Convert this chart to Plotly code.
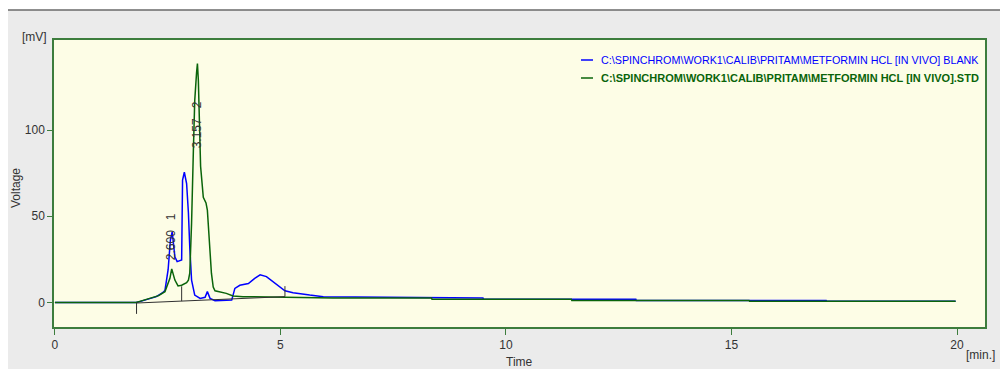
import plotly.graph_objects as go

# ---- chromatogram data (time in min, signal in mV) ----
blank_time = [0, 1.80, 1.88, 2.10, 2.25, 2.38, 2.44, 2.51, 2.56, 2.60, 2.63, 2.66, 2.71,
              2.81, 2.83, 2.87, 2.92, 2.96, 2.99, 3.03, 3.10, 3.22, 3.33, 3.38, 3.44,
              3.55, 3.92, 3.99, 4.10, 4.29, 4.43, 4.55, 4.69, 4.84, 4.99, 5.10, 5.28,
              5.43, 5.65, 5.95, 7.65, 7.66, 9.49, 9.50, 12.88, 12.89, 17.10, 17.11, 19.97]
blank_mv = [0, 0, 0.5, 2.0, 3.4, 5.5, 7.0, 19.0, 36.0, 41.0, 35.0, 26.5, 23.7,
            24.6, 71.0, 75.5, 69.0, 52.0, 32.0, 13.0, 4.3, 2.4, 3.0, 6.3, 2.4,
            1.0, 1.4, 8.2, 10.0, 11.0, 14.0, 16.0, 15.0, 12.0, 9.2, 6.8, 5.7,
            5.3, 4.3, 3.4, 3.0, 2.6, 2.6, 1.85, 1.85, 1.2, 1.2, 0.7, 0.7]

std_time = [0, 1.80, 1.90, 2.10, 2.30, 2.44, 2.50, 2.55, 2.59, 2.62, 2.66, 2.73, 2.81,
            2.92, 2.96, 2.99, 3.03, 3.07, 3.10, 3.14, 3.16, 3.18, 3.20, 3.23, 3.29,
            3.33, 3.35, 3.38, 3.42, 3.47, 3.51, 3.55, 3.80, 3.95, 4.17, 5.43, 6.17,
            8.35, 8.36, 11.45, 11.46, 15.39, 15.40, 19.97]
std_mv = [0, 0, 0.8, 2.4, 4.0, 6.3, 10.0, 14.0, 19.5, 17.0, 13.0, 9.6, 10.0,
          11.5, 13.0, 17.0, 46.0, 88.0, 117.0, 133.0, 138.5, 129.0, 104.0, 79.0, 61.0,
          58.0, 57.7, 53.6, 36.0, 17.0, 9.0, 6.8, 5.3, 3.8, 3.4, 3.0, 2.6,
          2.6, 1.85, 1.85, 1.2, 1.2, 0.7, 0.7]

# integration baseline and peak delimiters
baseline_time = [1.81, 5.10]
baseline_mv = [-0.3, 3.4]
delimiter_time = [1.81, 2.81, 5.10]
delimiter_from = [-0.3, 0.8, 3.4]
delimiter_to = [-6.6, 9.4, 9.5]

# peak labels: retention time, peak number, label anchor height
peak_rt = ["2.600", "3.157"]
peak_no = ["1", "2"]
peak_x = [2.59, 3.15]
peak_label_y = [23.5, 88.5]

blank_name = r"C:\SPINCHROM\WORK1\CALIB\PRITAM\METFORMIN HCL [IN VIVO] BLANK"
std_name = r"C:\SPINCHROM\WORK1\CALIB\PRITAM\METFORMIN HCL [IN VIVO].STD"

x_ticks = [0, 5, 10, 15, 20]
y_ticks = [0, 50, 100]

W, H = 1000, 369
L, R, T, B = 54, 985, 40, 327   # plot-area edges in pixels


def px(x):
    return (x - L) / (R - L)


def py(y):
    return (B - y) / (B - T)


FONT = "Liberation Sans, Arial, sans-serif"
FRAME = "#3d7d3d"
BLUE = "#0000ff"
GREEN = "#0a640a"

fig = go.Figure()

fig.add_trace(go.Scatter(x=blank_time, y=blank_mv, mode="lines",
                         line=dict(color=BLUE, width=1.5), hoverinfo="skip"))
fig.add_trace(go.Scatter(x=std_time, y=std_mv, mode="lines",
                         line=dict(color=GREEN, width=1.5), hoverinfo="skip"))

# baseline with delimiter marks
bx, by = list(baseline_time), list(baseline_mv)
for t, a, b in zip(delimiter_time, delimiter_from, delimiter_to):
    bx += [None, t, t]
    by += [None, a, b]
fig.add_trace(go.Scatter(x=bx, y=by, mode="lines",
                         line=dict(color="#303030", width=1), hoverinfo="skip"))

annotations = []
for rt, no, x, y in zip(peak_rt, peak_no, peak_x, peak_label_y):
    annotations.append(dict(
        x=x, y=y, xref="x", yref="y",
        text=rt + "\u00a0\u00a0\u00a0" + no, showarrow=False, textangle=-90,
        xanchor="center", yanchor="bottom",
        font=dict(family=FONT, size=12, color="#333333")))

# legend block
legend_rows = [(blank_name, BLUE, False, 60, 10.75), (std_name, GREEN, True, 78, 11)]
shapes = []
for name, col, bold, yy, fs in legend_rows:
    shapes.append(dict(type="line", xref="paper", yref="paper",
                       x0=px(581), x1=px(593), y0=py(yy), y1=py(yy),
                       line=dict(color=col, width=1.5)))
    annotations.append(dict(
        x=px(599), y=py(yy), xref="paper", yref="paper",
        text=("<b>%s</b>" % name) if bold else name, showarrow=False,
        xanchor="left", yanchor="middle",
        font=dict(family=FONT, size=fs, color=col)))

# axis captions
annotations += [
    dict(x=px(49), y=py(37), xref="paper", yref="paper", text="[mV]",
         showarrow=False, xanchor="right", yanchor="middle",
         font=dict(family=FONT, size=12, color="#333333")),
    dict(x=px(16), y=py(188), xref="paper", yref="paper", text="Voltage",
         showarrow=False, textangle=-90, xanchor="center", yanchor="middle",
         font=dict(family=FONT, size=12, color="#333333")),
    dict(x=px(519), y=py(362), xref="paper", yref="paper", text="Time",
         showarrow=False, xanchor="center", yanchor="middle",
         font=dict(family=FONT, size=12, color="#333333")),
    dict(x=px(997), y=py(355), xref="paper", yref="paper", text="[min.]",
         showarrow=False, xanchor="right", yanchor="middle",
         font=dict(family=FONT, size=12, color="#333333")),
]

# white page strip around the grey panel and the panel's top rule
shapes += [
    dict(type="rect", xref="paper", yref="paper", x0=px(0), x1=px(W), y0=py(0), y1=py(10),
         fillcolor="white", line=dict(width=0), layer="below"),
    dict(type="rect", xref="paper", yref="paper", x0=px(0), x1=px(8), y0=py(0), y1=py(H),
         fillcolor="white", line=dict(width=0), layer="below"),
    dict(type="line", xref="paper", yref="paper", x0=px(8), x1=px(W), y0=py(10), y1=py(10),
         line=dict(color="#6a6a6a", width=1.5)),
]

fig.update_layout(
    width=W, height=H,
    margin=dict(l=L, r=W - R, t=T, b=H - B, pad=0),
    paper_bgcolor="#ebebeb",
    plot_bgcolor="#fdfde6",
    showlegend=False,
    annotations=annotations,
    shapes=shapes,
    font=dict(family=FONT, size=12, color="#333333"),
)

x_lo = -0.02
x_hi = (R - 55) / 45.1
y_hi = (302.5 - T) / 1.725
y_lo = (302.5 - B) / 1.725

fig.update_xaxes(range=[x_lo, x_hi], tickvals=x_ticks, ticks="outside", ticklen=6,
                 tickcolor=FRAME, tickwidth=1, showgrid=False, zeroline=False,
                 showline=True, mirror=True, linecolor=FRAME, linewidth=1.5,
                 tickfont=dict(family=FONT, size=12, color="#333333"))
fig.update_yaxes(range=[y_lo, y_hi], tickvals=y_ticks, ticks="outside", ticklen=5,
                 tickcolor=FRAME, tickwidth=1, showgrid=False, zeroline=False,
                 showline=True, mirror=True, linecolor=FRAME, linewidth=1.5,
                 tickfont=dict(family=FONT, size=12, color="#333333"))

fig.write_html("out.html")
